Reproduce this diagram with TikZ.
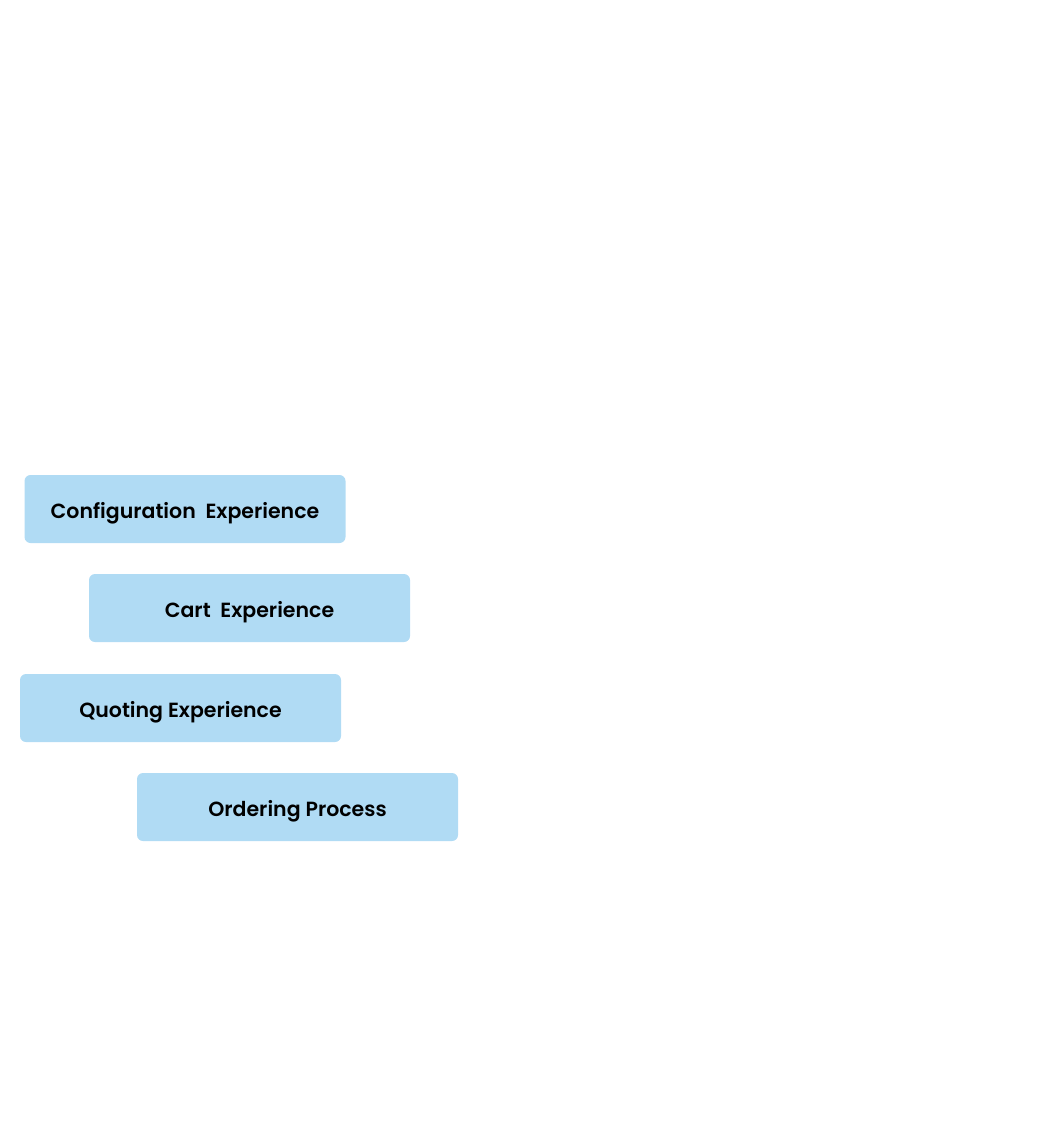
\documentclass[tikz,border=0pt]{standalone}
\usepackage{fontspec}
\newfontfamily\boxfont{Poppins SemiBold}
\definecolor{boxblue}{HTML}{B0DBF4}

\begin{document}
\begin{tikzpicture}[x=1pt,y=-1pt,
    stage/.style={fill=boxblue,rounded corners=6pt,minimum width=321pt,minimum height=68pt,inner sep=0pt,text height=18pt,text depth=0pt,font=\boxfont\fontsize{20.5}{24}\selectfont,text=black}]
  \useasboundingbox (0,0) rectangle (1040,1140);
  \node[stage] (config) at (185,509) {Configuration\ \ Experience};
  \node[stage] (cart) at (249.5,608) {Cart\ \ Experience};
  \node[stage] (quote) at (180.5,708) {Quoting Experience};
  \node[stage] (order) at (297.5,807) {Ordering Process};
\end{tikzpicture}
\end{document}
